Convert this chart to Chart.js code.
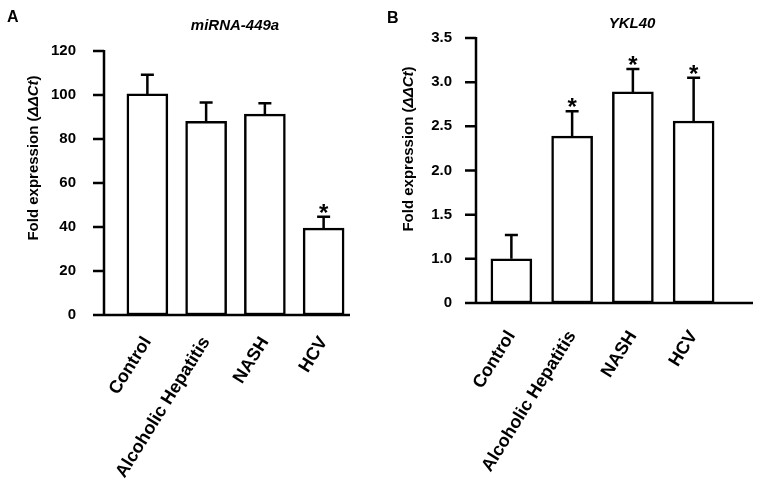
<!DOCTYPE html>
<html>
<head>
<meta charset="utf-8">
<script src="https://cdn.jsdelivr.net/npm/chart.js@4/dist/chart.umd.min.js"></script>
<style>
  body { margin: 0; background: #fff; }
  #wrap { position: relative; width: 762px; height: 492px; }
  canvas { position: absolute; top: 0; }
  #panelA { left: 0; }
  #panelB { left: 381px; }
</style>
</head>
<body>
<div id="wrap">
  <canvas id="panelA" width="381" height="492"></canvas>
  <canvas id="panelB" width="381" height="492"></canvas>
</div>
<script>
const categories = ['Control', 'Alcoholic Hepatitis', 'NASH', 'HCV']

// panel A - miRNA-449a
const mirnaValues = [100.5, 88, 91.3, 39.5]
const mirnaErrors = [8.7, 8.6, 5, 5.2]
const mirnaStars = [false, false, false, true]
const mirnaTicks = [0, 20, 40, 60, 80, 100, 120]
const mirnaTickLabels = ['0', '20', '40', '60', '80', '100', '120']

// panel B - YKL40 (axis starts at 0.5 but is labelled 0)
const yklValues = [1.0, 2.39, 2.89, 2.56]
const yklErrors = [0.27, 0.28, 0.26, 0.49]
const yklStars = [false, true, true, true]
const yklTicks = [0.5, 1.0, 1.5, 2.0, 2.5, 3.0, 3.5]
const yklTickLabels = ['0', '1.0', '1.5', '2.0', '2.5', '3.0', '3.5']

const FONT = "'Liberation Sans', Arial, sans-serif"
Chart.defaults.font.family = FONT
Chart.defaults.color = '#000'

// axes, error bars, stars and the extra text
const decor = {
  id: 'decor',
  afterDatasetsDraw(chart, args, opts) {
    const ctx = chart.ctx
    const area = chart.chartArea
    const y = chart.scales.y
    const axisX = area.left - opts.axisGap
    const ds = chart.data.datasets[0]

    ctx.save()
    ctx.strokeStyle = '#000'
    ctx.fillStyle = '#000'
    ctx.lineWidth = 2.5

    // error bars (upper only) + stars
    chart.getDatasetMeta(0).data.forEach((bar, i) => {
      const top = y.getPixelForValue(ds.data[i] + opts.errors[i])
      ctx.beginPath()
      ctx.moveTo(bar.x, bar.y)
      ctx.lineTo(bar.x, top)
      ctx.moveTo(bar.x - 6.5, top)
      ctx.lineTo(bar.x + 6.5, top)
      ctx.stroke()
      if (opts.stars[i]) {
        ctx.font = 'bold 24px ' + FONT
        ctx.textAlign = 'center'
        ctx.textBaseline = 'alphabetic'
        ctx.fillText('*', bar.x, top + 4)
      }
    })

    // axis lines and y ticks
    ctx.beginPath()
    ctx.moveTo(axisX, area.top - 1)
    ctx.lineTo(axisX, area.bottom)
    y.ticks.forEach((t) => {
      const py = y.getPixelForValue(t.value)
      ctx.moveTo(axisX - 11, py)
      ctx.lineTo(axisX, py)
    })
    ctx.moveTo(axisX - 11, area.bottom)
    ctx.lineTo(area.right + opts.axisExtra, area.bottom)
    ctx.stroke()

    // panel letter
    ctx.font = 'bold 16px ' + FONT
    ctx.textAlign = 'left'
    ctx.textBaseline = 'alphabetic'
    ctx.fillText(opts.letter, opts.letterX, opts.letterY)

    // gene title
    ctx.font = 'italic bold 15px ' + FONT
    ctx.textAlign = 'center'
    ctx.fillText(opts.title, opts.titleX, opts.titleY)

    // y axis title with italic ΔΔCt
    const parts = [
      ['bold 15px ' + FONT, 'Fold expression ('],
      ['italic bold 15px ' + FONT, 'ΔΔCt'],
      ['bold 15px ' + FONT, ')']
    ]
    let total = 0
    parts.forEach((p) => { ctx.font = p[0]; total += ctx.measureText(p[1]).width })
    ctx.translate(opts.yTitleX, opts.yTitleY)
    ctx.rotate(-Math.PI / 2)
    ctx.textAlign = 'left'
    ctx.textBaseline = 'middle'
    let px = -total / 2
    parts.forEach((p) => {
      ctx.font = p[0]
      ctx.fillText(p[1], px, 0)
      px += ctx.measureText(p[1]).width
    })
    ctx.restore()
  }
}

function makeChart(id, values, ticks, tickLabels, cfg) {
  return new Chart(document.getElementById(id).getContext('2d'), {
    type: 'bar',
    data: {
      labels: categories,
      datasets: [
        {
          data: values,
          base: ticks[0],
          backgroundColor: '#fff',
          borderColor: '#000',
          borderWidth: 2.5,
          borderSkipped: false,
          barThickness: 41
        }
      ]
    },
    options: {
      responsive: false,
      animation: false,
      layout: { padding: { left: 0, right: cfg.padRight, top: cfg.padTop, bottom: 0 } },
      plugins: {
        legend: { display: false },
        tooltip: { enabled: false },
        decor: cfg.decor
      },
      scales: {
        x: {
          grid: { display: false, drawTicks: false },
          border: { display: false },
          ticks: {
            autoSkip: false,
            minRotation: 58,
            maxRotation: 58,
            padding: cfg.labelPad,
            font: { size: 18, weight: 'bold' },
            color: '#000'
          },
          afterFit: (scale) => { scale.height = cfg.xHeight }
        },
        y: {
          min: ticks[0],
          max: ticks[ticks.length - 1],
          grid: { display: false, drawTicks: false },
          border: { display: false },
          afterBuildTicks: (scale) => {
            scale.ticks = ticks.map((v) => ({ value: v }))
          },
          ticks: {
            padding: cfg.tickPad,
            font: { size: 15, weight: 'bold' },
            color: '#000',
            callback: (value, i) => tickLabels[i]
          },
          afterFit: (scale) => { scale.width = cfg.yWidth }
        }
      }
    },
    plugins: [decor]
  })
}

makeChart('panelA', mirnaValues, mirnaTicks, mirnaTickLabels, {
  padRight: 28, padTop: 24, xHeight: 177, yWidth: 118, tickPad: 42, labelPad: 18,
  decor: {
    errors: mirnaErrors, stars: mirnaStars, axisGap: 14, axisExtra: -3,
    letter: 'A', letterX: 7, letterY: 22,
    title: 'miRNA-449a', titleX: 235, titleY: 30,
    yTitleX: 34, yTitleY: 158
  }
})

makeChart('panelB', yklValues, yklTicks, yklTickLabels, {
  padRight: 38, padTop: 23, xHeight: 189, yWidth: 100, tickPad: 29, labelPad: 24,
  decor: {
    errors: yklErrors, stars: yklStars, axisGap: 5, axisExtra: 29,
    letter: 'B', letterX: 6, letterY: 23,
    title: 'YKL40', titleX: 251, titleY: 28,
    yTitleX: 28, yTitleY: 149
  }
})
</script>
</body>
</html>
